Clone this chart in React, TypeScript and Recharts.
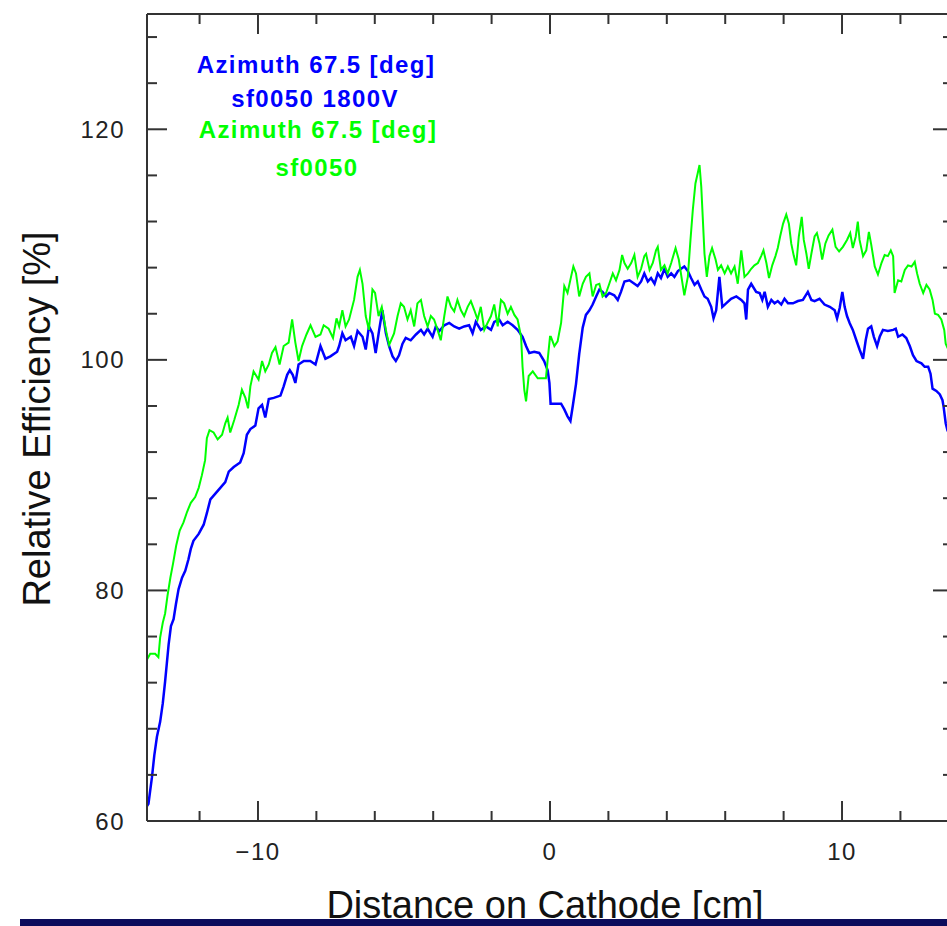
import React from 'react';
import { LineChart, Line, XAxis, YAxis } from 'recharts';

// sf0050 1800V scan (blue)
const blueX = [
  -13.8, -13.75, -13.63, -13.55, -13.46, -13.35, -13.26, -13.18, -13.12, -13.06,
  -12.98, -12.89, -12.81, -12.72, -12.6, -12.49, -12.38, -12.3, -12.21, -12.03,
  -11.86, -11.75, -11.63, -11.46, -11.29, -11.12, -11.0, -10.83, -10.61, -10.49,
  -10.38, -10.26, -10.09, -9.98, -9.86, -9.75, -9.63, -9.46, -9.23, -9.12,
  -9.0, -8.91, -8.81, -8.72, -8.61, -8.43, -8.21, -8.03, -7.86, -7.69,
  -7.52, -7.29, -7.22, -7.11, -7.0, -6.82, -6.71, -6.59, -6.42, -6.31,
  -6.2, -6.08, -5.97, -5.85, -5.74, -5.62, -5.51, -5.39, -5.28, -5.17,
  -5.05, -4.94, -4.77, -4.59, -4.42, -4.31, -4.19, -4.02, -3.91, -3.79,
  -3.62, -3.45, -3.28, -3.11, -2.94, -2.77, -2.65, -2.54, -2.37, -2.19,
  -2.02, -1.91, -1.74, -1.62, -1.45, -1.28, -1.11, -0.94, -0.82, -0.71,
  -0.54, -0.37, -0.2, -0.08, -0.02, 0.02, 0.38, 0.49, 0.6, 0.7,
  0.78, 0.89, 1.0, 1.12, 1.23, 1.35, 1.46, 1.58, 1.69, 1.8,
  1.92, 2.03, 2.2, 2.32, 2.43, 2.55, 2.72, 2.89, 3.0, 3.12,
  3.23, 3.35, 3.46, 3.58, 3.69, 3.8, 3.92, 4.03, 4.15, 4.26,
  4.38, 4.49, 4.6, 4.72, 4.83, 4.95, 5.06, 5.18, 5.29, 5.4,
  5.52, 5.6, 5.69, 5.8, 5.9, 6.03, 6.2, 6.38, 6.55, 6.66,
  6.72, 6.78, 6.89, 7.06, 7.18, 7.27, 7.35, 7.46, 7.58, 7.69,
  7.8, 7.92, 8.03, 8.15, 8.32, 8.49, 8.66, 8.83, 8.95, 9.06,
  9.23, 9.4, 9.58, 9.75, 9.83, 9.92, 10.01, 10.09, 10.17, 10.26,
  10.37, 10.49, 10.6, 10.72, 10.81, 10.89, 11.0, 11.09, 11.2, 11.29,
  11.4, 11.57, 11.75, 11.84, 11.92, 12.07, 12.2, 12.32, 12.43, 12.55,
  12.72, 12.83, 12.95, 13.03, 13.1, 13.23, 13.35, 13.44, 13.48, 13.55,
  13.62,
];
const blueY = [
  61.3, 61.5, 63.8, 65.7, 67.3, 68.6, 70.2, 72.1, 73.7, 75.3,
  76.9, 77.5, 78.8, 80.1, 81.1, 81.7, 82.7, 83.6, 84.3, 84.9,
  85.7, 86.7, 87.9, 88.4, 88.9, 89.4, 90.3, 90.7, 91.1, 91.9,
  93.5, 94.0, 94.3, 95.8, 96.1, 95.0, 96.6, 96.7, 96.9, 97.7,
  98.7, 99.1, 98.7, 98.0, 99.6, 99.9, 99.9, 99.6, 101.2, 100.1,
  100.3, 100.7, 101.2, 102.3, 101.7, 102.0, 101.2, 102.5, 102.0, 100.9,
  102.9, 102.3, 100.6, 102.6, 104.3, 102.3, 101.2, 100.3, 99.9, 100.4,
  101.4, 101.9, 101.7, 102.2, 102.6, 102.2, 102.7, 102.0, 102.9, 102.5,
  103.0, 103.2, 102.9, 102.7, 102.9, 103.0, 102.3, 103.3, 102.6, 102.9,
  102.6, 103.3, 103.5, 103.0, 103.3, 103.0, 102.6, 102.0, 101.2, 100.6,
  100.7, 100.6, 99.9, 99.1, 98.0, 96.2, 96.2, 95.7, 95.1, 94.7,
  96.0, 97.9, 100.5, 102.8, 103.9, 104.3, 104.8, 105.5, 106.1, 105.9,
  105.5, 105.8, 105.6, 105.2, 105.9, 106.8, 106.9, 106.6, 106.4, 106.8,
  107.5, 106.8, 107.1, 106.6, 107.5, 107.1, 107.9, 107.2, 107.5, 107.2,
  107.7, 107.9, 108.1, 107.7, 107.1, 106.5, 106.8, 106.1, 105.5, 105.3,
  104.6, 103.6, 104.3, 107.2, 104.6, 104.9, 105.3, 105.5, 105.2, 104.9,
  103.5, 106.1, 106.6, 105.9, 105.8, 105.2, 105.9, 104.6, 105.2, 104.9,
  105.1, 104.8, 105.3, 104.9, 104.9, 105.1, 105.2, 105.9, 105.2, 105.1,
  105.3, 104.8, 104.6, 104.3, 103.6, 104.5, 105.9, 104.6, 103.8, 103.2,
  102.6, 101.7, 100.9, 100.1, 101.7, 102.7, 102.9, 102.0, 101.2, 102.0,
  102.6, 102.5, 102.6, 102.7, 102.0, 102.2, 101.9, 101.2, 100.4, 99.9,
  99.7, 99.4, 99.4, 98.8, 97.5, 97.3, 97.0, 96.5, 95.9, 94.5,
  93.8,
];

// sf0050 reference scan (green)
const greenX = [
  -13.8, -13.69, -13.52, -13.41, -13.35, -13.26, -13.18, -13.1, -13.0, -12.91,
  -12.8, -12.68, -12.55, -12.43, -12.3, -12.15, -12.03, -11.92, -11.81, -11.75,
  -11.66, -11.52, -11.38, -11.23, -11.12, -11.04, -10.95, -10.81, -10.66, -10.55,
  -10.43, -10.34, -10.26, -10.15, -9.98, -9.86, -9.75, -9.63, -9.52, -9.4,
  -9.26, -9.12, -8.95, -8.83, -8.72, -8.61, -8.49, -8.34, -8.2, -8.03,
  -7.86, -7.75, -7.58, -7.43, -7.31, -7.22, -7.11, -7.0, -6.88, -6.71,
  -6.59, -6.51, -6.42, -6.31, -6.2, -6.08, -5.99, -5.87, -5.76, -5.62,
  -5.51, -5.34, -5.22, -5.11, -5.0, -4.88, -4.77, -4.65, -4.54, -4.42,
  -4.31, -4.19, -4.08, -3.97, -3.85, -3.74, -3.62, -3.51, -3.39, -3.28,
  -3.17, -3.05, -2.94, -2.82, -2.71, -2.59, -2.48, -2.37, -2.25, -2.14,
  -2.02, -1.91, -1.79, -1.68, -1.57, -1.45, -1.34, -1.22, -1.11, -0.99,
  -0.94, -0.88, -0.82, -0.73, -0.59, -0.42, -0.25, -0.14, -0.08, 0.0,
  0.03, 0.15, 0.26, 0.38, 0.49, 0.6, 0.72, 0.8, 0.89, 1.0,
  1.12, 1.23, 1.35, 1.46, 1.58, 1.69, 1.8, 1.92, 2.03, 2.15,
  2.26, 2.38, 2.47, 2.55, 2.66, 2.78, 2.89, 3.0, 3.12, 3.23,
  3.29, 3.41, 3.52, 3.63, 3.69, 3.8, 3.92, 4.03, 4.15, 4.3,
  4.41, 4.52, 4.6, 4.72, 4.81, 4.89, 4.98, 5.06, 5.12, 5.18,
  5.23, 5.29, 5.37, 5.46, 5.55, 5.67, 5.75, 5.86, 5.98, 6.09,
  6.2, 6.32, 6.43, 6.55, 6.66, 6.78, 6.89, 7.0, 7.12, 7.23,
  7.31, 7.41, 7.5, 7.61, 7.72, 7.8, 7.88, 7.98, 8.09, 8.18,
  8.26, 8.35, 8.43, 8.52, 8.62, 8.69, 8.78, 8.86, 8.95, 9.06,
  9.14, 9.23, 9.32, 9.43, 9.54, 9.67, 9.78, 9.9, 10.03, 10.17,
  10.28, 10.37, 10.47, 10.54, 10.6, 10.72, 10.83, 10.92, 11.0, 11.12,
  11.23, 11.35, 11.46, 11.57, 11.67, 11.75, 11.8, 11.92, 12.03, 12.15,
  12.26, 12.38, 12.49, 12.57, 12.66, 12.78, 12.89, 13.0, 13.1, 13.18,
  13.29, 13.4, 13.5, 13.55, 13.62,
];
const greenY = [
  74.0, 74.5, 74.5, 74.2, 75.9, 77.2, 78.0, 79.5, 81.1, 82.3,
  83.9, 85.2, 85.9, 86.8, 87.6, 88.1, 88.9, 90.0, 91.3, 93.2,
  93.9, 93.7, 93.1, 93.5, 94.5, 95.0, 93.7, 94.8, 96.1, 97.4,
  96.7, 95.8, 97.7, 99.0, 98.3, 99.9, 99.0, 99.6, 100.6, 101.1,
  99.6, 101.2, 101.5, 103.5, 101.5, 99.9, 101.2, 102.2, 103.0, 102.0,
  102.2, 103.0, 102.7, 101.9, 103.6, 102.9, 104.3, 102.9, 103.5, 105.2,
  107.2, 107.8, 106.6, 103.8, 102.6, 106.1, 105.8, 103.8, 104.6, 102.6,
  101.3, 102.3, 103.8, 104.9, 104.6, 103.5, 104.3, 102.9, 104.9, 105.2,
  103.8, 102.9, 103.8, 103.5, 102.6, 101.7, 103.8, 105.5, 104.6, 104.2,
  105.2, 104.3, 103.8, 104.6, 105.1, 104.3, 103.5, 104.6, 102.6, 103.2,
  103.8, 104.8, 102.9, 105.2, 104.9, 104.0, 104.6, 103.9, 103.5, 102.0,
  99.4, 97.4, 96.4, 98.6, 99.0, 98.4, 98.4, 98.4, 100.0, 102.0,
  102.0, 101.2, 101.6, 103.2, 106.4, 105.8, 107.2, 108.1, 107.5, 105.5,
  106.6, 107.2, 107.5, 105.5, 106.5, 106.6, 105.5, 105.8, 106.6, 107.5,
  106.9, 107.8, 109.1, 108.4, 107.9, 108.4, 109.1, 107.2, 107.9, 109.0,
  109.2, 107.8, 108.4, 109.5, 109.8, 107.8, 108.2, 107.5, 108.4, 109.7,
  108.7, 106.9, 105.6, 107.2, 110.4, 113.0, 115.3, 116.2, 116.9, 115.0,
  112.4, 109.2, 107.2, 109.0, 109.7, 108.7, 107.8, 108.2, 107.5, 108.1,
  107.5, 108.1, 106.6, 109.5, 107.2, 107.5, 107.9, 108.2, 108.4, 109.0,
  109.5, 108.4, 107.1, 108.2, 109.0, 109.7, 110.7, 111.8, 112.6, 111.8,
  110.1, 109.0, 108.2, 110.7, 112.4, 110.4, 109.2, 107.9, 109.2, 110.7,
  111.0, 110.1, 108.7, 110.1, 110.8, 111.3, 109.8, 109.4, 109.8, 110.4,
  111.0, 109.7, 110.7, 112.0, 110.4, 109.0, 109.5, 111.1, 110.0, 108.1,
  107.4, 108.4, 109.1, 109.0, 109.5, 109.0, 105.8, 106.9, 106.8, 107.8,
  108.2, 108.1, 108.5, 107.5, 106.6, 105.8, 106.5, 106.1, 105.2, 104.0,
  103.9, 103.5, 102.6, 101.4, 101.0,
];

const xTicks = [-12, -10, -8, -6, -4, -2, 0, 2, 4, 6, 8, 10, 12];
const xMajor = [-10, 0, 10];
const yTicks = [60, 64, 68, 72, 76, 80, 84, 88, 92, 96, 100, 104, 108, 112, 116, 120, 124, 128];
const yMajor = [60, 80, 100, 120];

const blueData = blueX.map((x, i) => ({ x, y: blueY[i] }));
const greenData = greenX.map((x, i) => ({ x, y: greenY[i] }));

const FONT = '"Liberation Sans", Arial, Helvetica, sans-serif';
const AXIS = '#333';
const BLUE = '#0000ff';
const GREEN = '#00ff00';

const fmt = (v: number) => (v < 0 ? '\u2212' + Math.abs(v) : String(v));

const BottomTick = ({ x, y, payload }: any) => {
  const major = xMajor.includes(payload.value);
  return (
    <g>
      <line x1={x} y1={y} x2={x} y2={y - (major ? 20 : 10)} stroke={AXIS} strokeWidth={2} />
      {major && (
        <text x={x} y={y + 39} textAnchor="middle" fontSize={24} letterSpacing={1.5} fill="#222" fontFamily={FONT}>
          {fmt(payload.value)}
        </text>
      )}
    </g>
  );
};

const TopTick = ({ x, y, payload }: any) => {
  const major = xMajor.includes(payload.value);
  return <line x1={x} y1={y} x2={x} y2={y + (major ? 20 : 10)} stroke={AXIS} strokeWidth={2} />;
};

const LeftTick = ({ x, y, payload }: any) => {
  const major = yMajor.includes(payload.value);
  return (
    <g>
      <line x1={x} y1={y} x2={x + (major ? 20 : 10)} y2={y} stroke={AXIS} strokeWidth={2} />
      {major && (
        <text x={x - 22} y={y + 8.5} textAnchor="end" fontSize={24} letterSpacing={1.5} fill="#222" fontFamily={FONT}>
          {fmt(payload.value)}
        </text>
      )}
    </g>
  );
};

const RightTick = ({ x, y, payload }: any) => {
  const major = yMajor.includes(payload.value);
  return <line x1={x} y1={y} x2={x - (major ? 20 : 10)} y2={y} stroke={AXIS} strokeWidth={2} />;
};

const axisLine = { stroke: AXIS, strokeWidth: 2 };

export default function App() {
  return (
    <div style={{ position: 'absolute', left: 0, top: 0, width: 947, height: 926, overflow: 'hidden', background: '#fff' }}>
      <LineChart width={960} height={926} margin={{ top: 13, right: 6, bottom: 0, left: 0 }}>
        <XAxis
          xAxisId="b"
          type="number"
          dataKey="x"
          domain={[-13.8, 13.8]}
          ticks={xTicks}
          interval={0}
          allowDataOverflow
          height={105}
          tickSize={0}
          tickMargin={0}
          tickLine={false}
          axisLine={axisLine}
          tick={(p: any) => <BottomTick {...p} />}
        />
        <XAxis
          xAxisId="t"
          orientation="top"
          type="number"
          dataKey="x"
          domain={[-13.8, 13.8]}
          ticks={xTicks}
          interval={0}
          allowDataOverflow
          height={1}
          tickSize={0}
          tickMargin={0}
          tickLine={false}
          axisLine={axisLine}
          tick={(p: any) => <TopTick {...p} />}
        />
        <YAxis
          yAxisId="l"
          type="number"
          domain={[60, 130]}
          ticks={yTicks}
          interval={0}
          allowDataOverflow
          width={147}
          tickSize={0}
          tickMargin={0}
          tickLine={false}
          axisLine={axisLine}
          tick={(p: any) => <LeftTick {...p} />}
        />
        <YAxis
          yAxisId="r"
          orientation="right"
          type="number"
          domain={[60, 130]}
          ticks={yTicks}
          interval={0}
          allowDataOverflow
          width={1}
          tickSize={0}
          tickMargin={0}
          tickLine={false}
          axisLine={axisLine}
          tick={(p: any) => <RightTick {...p} />}
        />
        <Line
          xAxisId="b"
          yAxisId="l"
          data={blueData}
          dataKey="y"
          type="linear"
          stroke={BLUE}
          strokeWidth={2.5}
          dot={false}
          isAnimationActive={false}
        />
        <Line
          xAxisId="b"
          yAxisId="l"
          data={greenData}
          dataKey="y"
          type="linear"
          stroke={GREEN}
          strokeWidth={2}
          dot={false}
          isAnimationActive={false}
        />
      </LineChart>
      <svg width={947} height={926} style={{ position: 'absolute', left: 0, top: 0, pointerEvents: 'none' }}>
        <g fontFamily={FONT} fontWeight="bold" fontSize={24} letterSpacing={1.4} textAnchor="middle">
          <text x={316} y={73} fill={BLUE}>Azimuth 67.5 [deg]</text>
          <text x={315} y={107} fill={BLUE}>sf0050 1800V</text>
          <text x={318} y={138} fill={GREEN}>Azimuth 67.5 [deg]</text>
          <text x={317} y={176} fill={GREEN}>sf0050</text>
        </g>
        <text
          transform="translate(50, 419) rotate(-90)"
          textAnchor="middle"
          fontFamily={FONT}
          fontSize={38}
          fill="#111"
        >
          Relative Efficiency [%]
        </text>
        <text x={545} y={918} textAnchor="middle" fontFamily={FONT} fontSize={38} fill="#111">
          Distance on Cathode [cm]
        </text>
        <rect x={20} y={919} width={927} height={7} fill="#0c0c5c" />
      </svg>
    </div>
  );
}
